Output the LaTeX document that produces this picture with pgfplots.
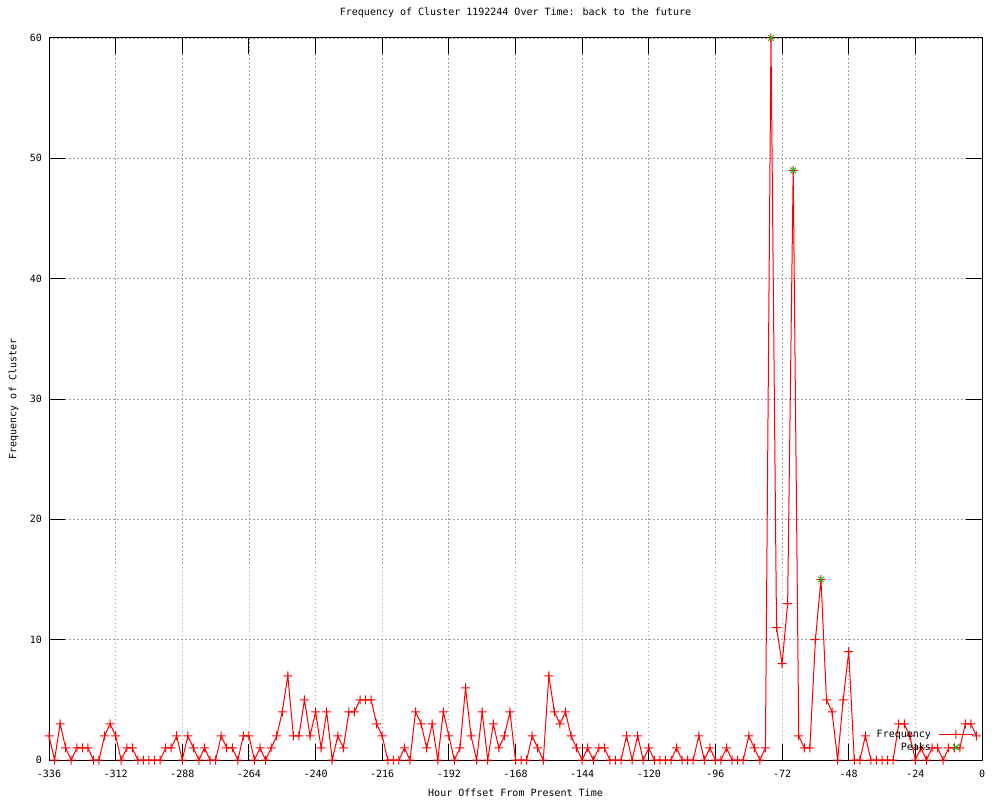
\documentclass[border=0pt]{standalone}
\usepackage{fontspec}
\setmainfont{DejaVu Sans Mono}
\usepackage{pgfplots}
\pgfplotsset{compat=1.18}
\usepackage{pgfplotstable}
\definecolor{gpred}{RGB}{255,0,0}
\definecolor{gpgreen}{RGB}{0,192,0}
\definecolor{gpgrid}{RGB}{160,160,160}
\pgfdeclareplotmark{gplus}{%
  \pgfsetfillcolor{gpred}%
  \pgfpathrectangle{\pgfpoint{-4.5pt}{-0.5pt}}{\pgfpoint{9pt}{1pt}}%
  \pgfpathrectangle{\pgfpoint{-0.5pt}{-4.5pt}}{\pgfpoint{1pt}{9pt}}%
  \pgfusepathqfill}
\pgfplotsset{
  freqlegend/.style={legend image code/.code={\draw[gpred, line width=1pt] (0pt,0pt) -- (34pt,0pt);
    \draw[mark repeat=2,mark phase=2,##1] plot coordinates {(0pt,0pt) (17pt,0pt) (34pt,0pt)};}},
  ptlegend/.style={legend image code/.code={\draw[mark repeat=2,mark phase=2,##1] plot coordinates {(0pt,0pt) (17pt,0pt) (34pt,0pt)};}},
}
\pgfplotstableread{
h v
-336 2
-334 0
-332 3
-330 1
-328 0
-326 1
-324 1
-322 1
-320 0
-318 0
-316 2
-314 3
-312 2
-310 0
-308 1
-306 1
-304 0
-302 0
-300 0
-298 0
-296 0
-294 1
-292 1
-290 2
-288 0
-286 2
-284 1
-282 0
-280 1
-278 0
-276 0
-274 2
-272 1
-270 1
-268 0
-266 2
-264 2
-262 0
-260 1
-258 0
-256 1
-254 2
-252 4
-250 7
-248 2
-246 2
-244 5
-242 2
-240 4
-238 1
-236 4
-234 0
-232 2
-230 1
-228 4
-226 4
-224 5
-222 5
-220 5
-218 3
-216 2
-214 0
-212 0
-210 0
-208 1
-206 0
-204 4
-202 3
-200 1
-198 3
-196 0
-194 4
-192 2
-190 0
-188 1
-186 6
-184 2
-182 0
-180 4
-178 0
-176 3
-174 1
-172 2
-170 4
-168 0
-166 0
-164 0
-162 2
-160 1
-158 0
-156 7
-154 4
-152 3
-150 4
-148 2
-146 1
-144 0
-142 1
-140 0
-138 1
-136 1
-134 0
-132 0
-130 0
-128 2
-126 0
-124 2
-122 0
-120 1
-118 0
-116 0
-114 0
-112 0
-110 1
-108 0
-106 0
-104 0
-102 2
-100 0
-98 1
-96 0
-94 0
-92 1
-90 0
-88 0
-86 0
-84 2
-82 1
-80 0
-78 1
-76 60
-74 11
-72 8
-70 13
-68 49
-66 2
-64 1
-62 1
-60 10
-58 15
-56 5
-54 4
-52 0
-50 5
-48 9
-46 0
-44 0
-42 2
-40 0
-38 0
-36 0
-34 0
-32 0
-30 3
-28 3
-26 2
-24 0
-22 1
-20 0
-18 1
-16 1
-14 0
-12 1
-10 1
-8 1
-6 3
-4 3
-2 2
}\freqdata
\pgfplotstableread{
h v
-76 60
-68 49
-58 15
}\peakdata
\begin{document}
\begin{tikzpicture}[font=\fontsize{10}{12}\selectfont]
\useasboundingbox (-49pt,-40pt) rectangle (951pt,760pt);
\begin{axis}[
  at={(0pt,0pt)}, anchor=south west,
  scale only axis, width=933pt, height=722pt,
  xmin=-336, xmax=0, ymin=0, ymax=60,
  xtick={-336,-312,-288,-264,-240,-216,-192,-168,-144,-120,-96,-72,-48,-24,0},
  xticklabels={-336,-312,-288,-264,-240,-216,-192,-168,-144,-120,-96,-72,-48,-24,0},
  ytick={0,10,20,30,40,50,60},
  yticklabels={0,10,20,30,40,50,60},
  xticklabel style={anchor=center, yshift=-14pt, inner sep=0pt},
  yticklabel style={anchor=east, xshift=-7pt, inner sep=0pt},
  tick align=inside, major tick length=16pt,
  major tick style={black, line width=1pt},
  axis line style={black, line width=1pt},
  grid=major,
  major grid style={gpgrid, line width=0.8pt, dash pattern=on 1.5pt off 2.5pt},
  title={Frequency of Cluster 1192244 Over Time: back to the future},
  title style={at={(axis description cs:0.5,1.0263)}, anchor=center, inner sep=0pt},
  xlabel={Hour Offset From Present Time},
  xlabel style={at={(axis description cs:0.5,-0.0457)}, anchor=center, inner sep=0pt},
  ylabel={Frequency of Cluster},
  ylabel style={at={(axis description cs:-0.038,0.5)}, anchor=center, rotate=0, inner sep=0pt},
  clip=false,
  legend plot pos=right,
  legend cell align=right,
  legend style={draw=none, fill=none, at={(axis description cs:0.991,0.044)}, anchor=north east,
    inner sep=0pt, row sep=1pt, nodes={inner sep=1.5pt}, font=\fontsize{10}{12}\selectfont},
]
\addplot[gpred, line width=1pt, no marks, forget plot] table[x=h, y=v] {\freqdata};
\addplot[gpred, only marks, mark=gplus, mark options={fill=gpred, draw=none}, freqlegend]
  table[x=h, y=v] {\freqdata};
\addlegendentry{Frequency\hspace*{6pt}}
\addplot[gpgreen, only marks, mark=x, mark size=4pt, mark options={gpgreen, line width=1pt}, ptlegend]
  table[x=h, y=v] {\peakdata};
\addlegendentry{Peaks\hspace*{6pt}}
\end{axis}
\end{tikzpicture}
\end{document}
